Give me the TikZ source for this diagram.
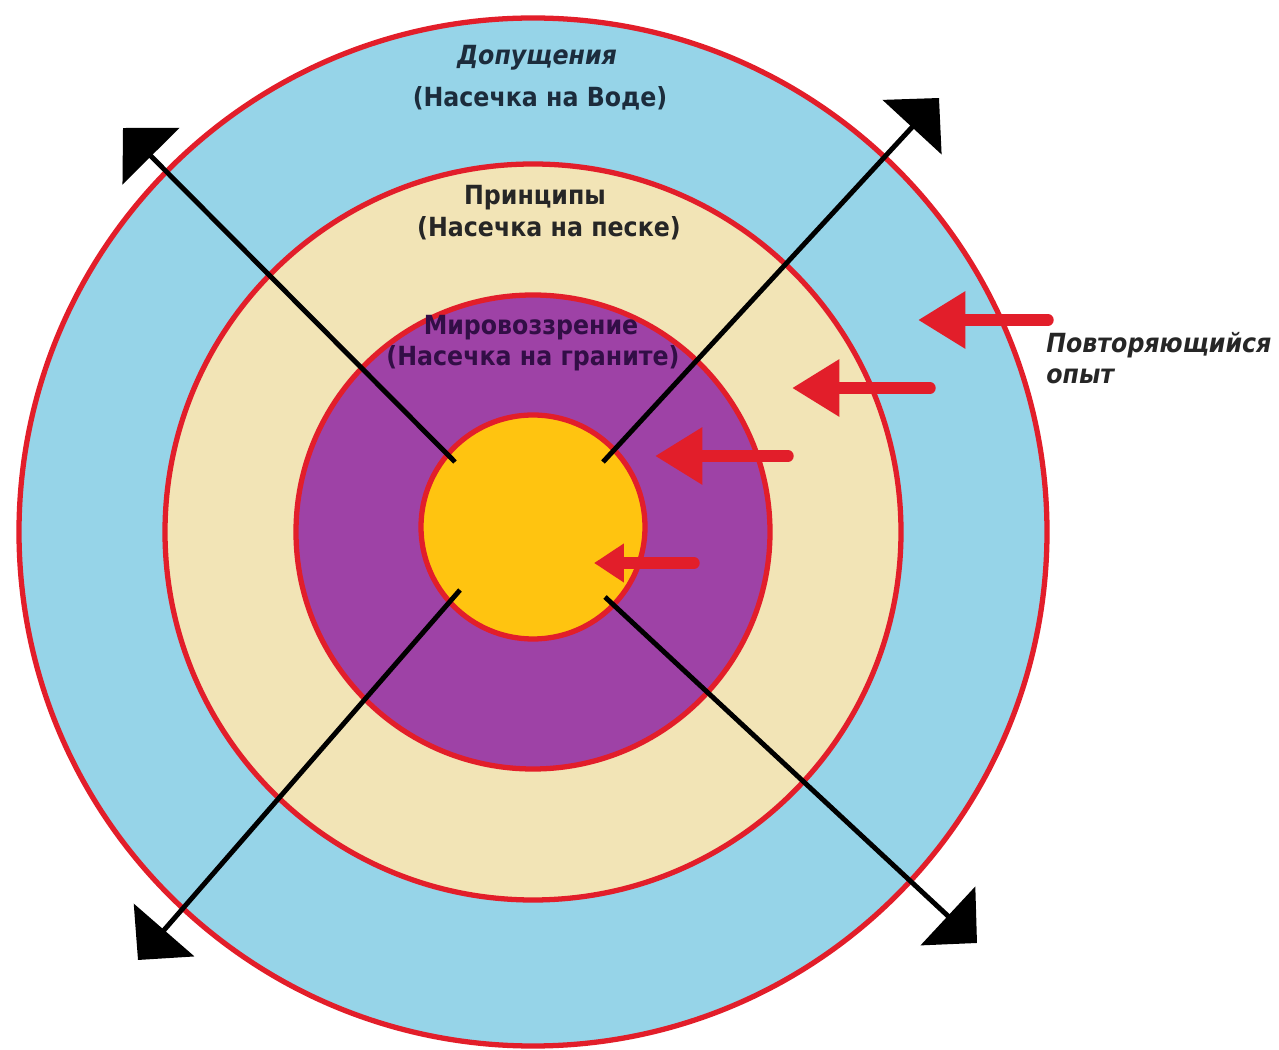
\documentclass[tikz,border=0pt]{standalone}
\usepackage{fontspec}
\setmainfont{DejaVu Sans Condensed}
\usetikzlibrary{arrows.meta}
\definecolor{sky}{RGB}{150,212,232}
\definecolor{sand}{RGB}{242,228,182}
\definecolor{plum}{RGB}{158,66,166}
\definecolor{gold}{RGB}{255,196,16}
\definecolor{rim}{RGB}{226,30,42}
\definecolor{navy}{RGB}{28,44,60}
\definecolor{grape}{RGB}{50,14,70}

\begin{document}
\begin{tikzpicture}[x=0.02cm,y=-0.02cm,
    ring/.style={draw=rim,line width=3pt},
    push/.style={rim,line width=6.5pt,line cap=round,-{Triangle[length=27pt,width=31pt]}},
    spoke/.style={line width=2.8pt,-{Triangle[angle=90:32pt]}},
    lbl/.style={font=\bfseries\fontsize{15}{17}\selectfont,inner sep=0pt},
    slant/.style={font=\bfseries\itshape\fontsize{15}{17}\selectfont}]
    \useasboundingbox(0,0)rectangle(1279,1050);

    \coordinate(c)at(533,532);
    \coordinate(core)at(533,527);
    \draw[ring,fill=sky](c)circle[radius=514];
    \draw[ring,fill=sand](c)circle[radius=368];
    \draw[ring,fill=plum](c)circle[radius=237];
    \draw[ring,fill=gold](core)circle[radius=112];

    \coordinate(r1a)at(1048,320);\coordinate(r1b)at(918,320);
    \coordinate(r2a)at(930,388);\coordinate(r2b)at(792,388);
    \coordinate(r3a)at(788,456);\coordinate(r3b)at(655,456);
    \coordinate(r4a)at(694,563);\coordinate(r4b)at(594,563);
    \draw[push](r1a)--(r1b);
    \draw[push](r2a)--(r2b);
    \draw[push](r3a)--(r3b);
    \draw[push,-{Triangle[length=17pt,width=21pt]}](r4a)--(r4b);

    \coordinate(s1a)at(455,462);\coordinate(s1b)at(123,128);
    \coordinate(s2a)at(603,462);\coordinate(s2b)at(939,98);
    \coordinate(s3a)at(460,590);\coordinate(s3b)at(138,960);
    \coordinate(s4a)at(605,597);\coordinate(s4b)at(977,943);
    \draw[spoke](s1a)--(s1b);
    \draw[spoke](s2a)--(s2b);
    \draw[spoke](s3a)--(s3b);
    \draw[spoke](s4a)--(s4b);

    \node[lbl,slant,navy](assume)at(537,58){Допущения};
    \node[lbl,navy](assumeSub)at(540,98){(Насечка на Воде)};
    \node[lbl,black!85](principle)at(535,198){Принципы};
    \node[lbl,black!85](principleSub)at(549,228){(Насечка на песке)};
    \node[lbl,grape](world)at(531,328){Мировоззрение};
    \node[lbl,grape](worldSub)at(533,358){(Насечка на граните)};
    \node[lbl,slant,black!85,anchor=west](again)at(1046,345){Повторяющийся};
    \node[lbl,slant,black!85,anchor=west](againSub)at(1046,376){опыт};
\end{tikzpicture}
\end{document}
